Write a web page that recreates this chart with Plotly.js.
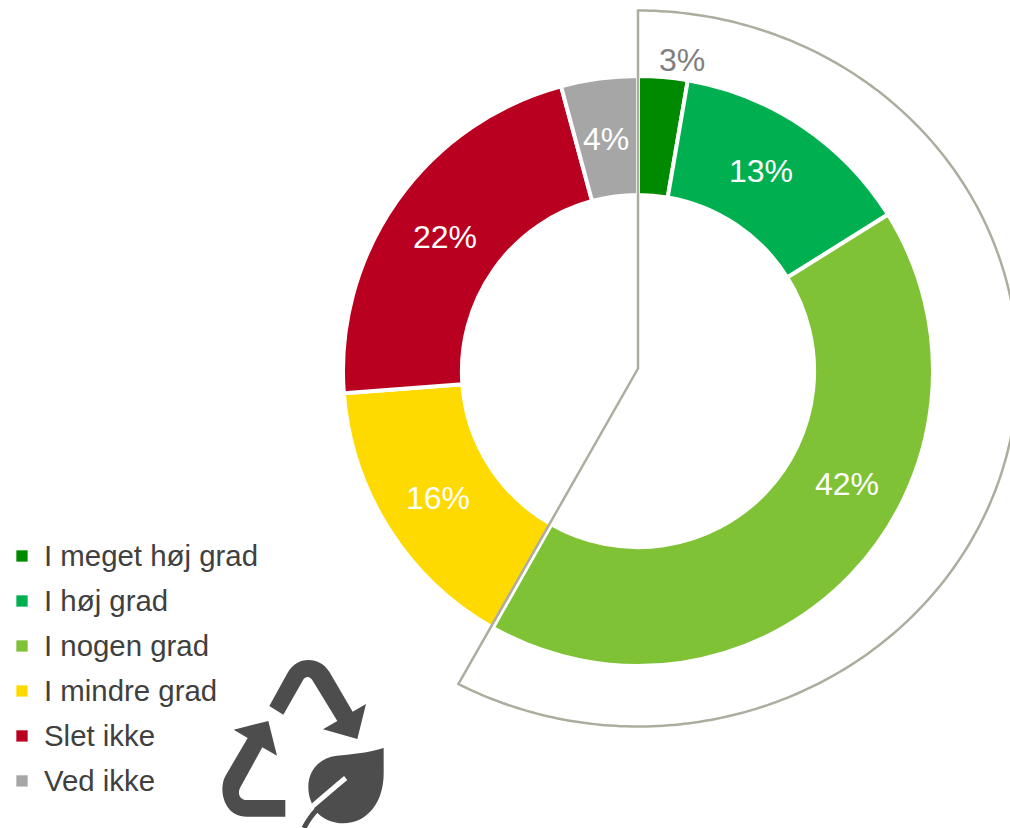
<!DOCTYPE html>
<html><head><meta charset="utf-8">
<script src="https://cdn.plot.ly/plotly-3.0.1.min.js"></script>
<style>html,body{margin:0;padding:0;background:#fff;overflow:hidden}#c{width:1010px;height:828px}</style>
</head><body><div id="c"></div>
<script>
const categories = ["I meget høj grad","I høj grad","I nogen grad","I mindre grad","Slet ikke","Ved ikke"];
const values = [2.7,13.4,42.1,15.6,22.0,4.2];
const colors = ["#008A00","#00B050","#7FC236","#FFDA00","#BA0020","#A6A6A6"];
const labelColors = ["#7F7F7F","#FFFFFF","#FFFFFF","#FFFFFF","#FFFFFF","#FFFFFF"];
const labelX = [682,761,847,438,445,606];
const labelY = [60,171,484,498,237,139];

const W=1010,H=828;
const px=(x,y)=>(x/W).toFixed(5)+","+(1-y/H).toFixed(5);
function path(cmds){
  return cmds.map(c=>{ if(c[0]==="Z")return "Z"; const p=[]; for(let i=1;i<c.length;i+=2)p.push(px(c[i],c[i+1])); return c[0]+p.join(" ");}).join(" ");
}
// icon points are given in 3x crop units
const Z=(x,y)=>[200+x/3,640+y/3];
function zp(cmds){return path(cmds.map(c=>{ if(c[0]==="Z")return c; const o=[c[0]]; for(let i=1;i<c.length;i+=2){const q=Z(c[i],c[i+1]);o.push(q[0],q[1]);} return o;}));}
const iconColor="#4D4D4D";
const arrowTop=zp([["M",208,198],["L",262,100],["C",278,72,300,60,325,60],["C",352,60,372,72,388,95],["L",458,215],["L",498,192],["L",472,297],["L",369,268],["L",412,243],["L",340,125],["C",332,108,316,106,308,122],["L",250,224],["Z"]]);
const arrowLeft=zp([["M",205,243],["L",101,269],["L",143,294],["L",75,410],["C",55,450,72,530,140,530],["L",256,530],["L",256,480],["L",140,480],["C",120,480,110,460,122,440],["L",187,322],["L",231,347],["Z"]]);
const leaf=zp([["M",551,324],["C",500,340,450,343,410,347],["C",360,353,325,390,325,440],["C",325,465,332,482,338,495],["L",345,510],["C",365,538,400,550,430,550],["C",500,550,551,490,551,400],["Z"]]);
const slit=zp([["M",437,414],["C",400,445,365,475,336,500]]);
const stem=zp([["M",350,510],["C",335,525,322,545,312,564]]);

// elliptical call-out outline
const cx=638,cy=368.5,rx=380,ry=358,endDeg=208.6;
const outline=[["M",cx,cy],["L",cx,cy-ry]];
for(let d=1;d<=endDeg;d+=0.8){const t=d*Math.PI/180;outline.push(["L",cx+rx*Math.sin(t),cy-ry*Math.cos(t)]);}
outline.push(["Z"]);

const legendFont=29.4, rowFont=32.3;
const data=[{
  type:"pie",
  labels:categories.map(c=>`<span style="font-size:${legendFont}px">${c}</span>`),
  values:values,
  sort:false,direction:"clockwise",rotation:0,hole:0.597,
  domain:{x:[343/W,933/W],y:[1-666/H,1-76/H]},
  marker:{colors:colors,line:{color:"#FFFFFF",width:4}},
  textinfo:"none",
  automargin:false,hoverinfo:"label+percent"
}];
const annotations=values.map((v,i)=>({
  xref:"paper",yref:"paper",x:labelX[i]/W,y:1-labelY[i]/H,xanchor:"center",yanchor:"middle",
  text:Math.round(v)+"%",showarrow:false,captureevents:false,
  font:{size:32,color:labelColors[i],family:"Liberation Sans"}
}));
const lineCol="#ADAD9F";
const shp=(p,extra)=>Object.assign({type:"path",xref:"paper",yref:"paper",path:p},extra);
const layout={
  width:W,height:H,margin:{l:0,r:0,t:0,b:0},paper_bgcolor:"#fff",plot_bgcolor:"#fff",
  font:{family:"Liberation Sans",color:"#404040"},
  showlegend:true,annotations:annotations,
  legend:{x:0,xanchor:"left",y:1-526/H,yanchor:"top",itemwidth:34,font:{size:rowFont,color:"#404040",family:"Liberation Sans"},bgcolor:"rgba(0,0,0,0)",borderwidth:0,traceorder:"normal",itemclick:false,itemdoubleclick:false},
  shapes:[
    shp(path(outline),{line:{color:lineCol,width:2.5},fillcolor:"rgba(0,0,0,0)"}),
    shp(arrowTop,{fillcolor:iconColor,line:{width:0}}),
    shp(arrowLeft,{fillcolor:iconColor,line:{width:0}}),
    shp(leaf,{fillcolor:iconColor,line:{width:0}}),
    shp(slit,{fillcolor:"rgba(0,0,0,0)",line:{color:"#FFFFFF",width:5}}),
    shp(stem,{fillcolor:"rgba(0,0,0,0)",line:{color:iconColor,width:5}})
  ]
};
Plotly.newPlot("c",data,layout,{displayModeBar:false,responsive:false}).then(gd=>{
  // the slice gap stroke should not shrink the legend swatches; align them with the text
  gd.querySelectorAll(".legend path.legendpie").forEach(p=>{
    p.style.strokeWidth="0.7px";
    p.setAttribute("transform",(p.getAttribute("transform")||"")+" translate(0,2.5)");
  });
});
</script></body></html>
